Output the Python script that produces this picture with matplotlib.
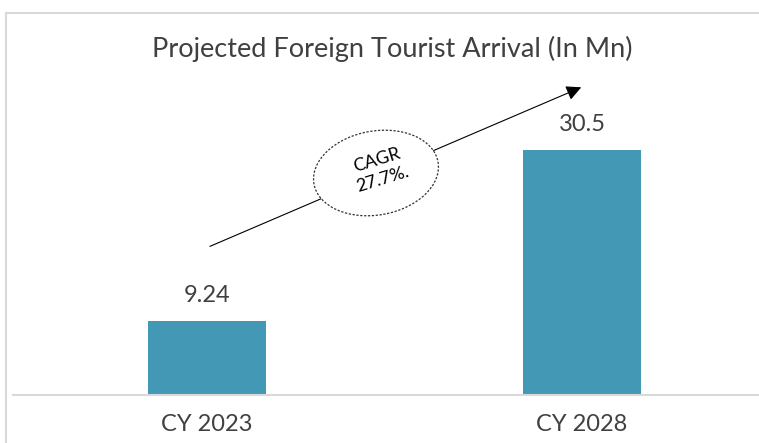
import matplotlib.pyplot as plt
from matplotlib.patches import Rectangle, Ellipse

years = ["CY 2023", "CY 2028"]
arrivals = [9.24, 30.5]
value_labels = ["9.24", "30.5"]
cagr_text = "CAGR\n27.7%."

plt.rcParams['font.family'] = ['Lato', 'DejaVu Sans']
text_col = "#404040"

fig = plt.figure(figsize=(7.59, 4.43), dpi=100)
ax = fig.add_axes([13 / 759, 48 / 443, 746 / 759, 335 / 443])

x = range(len(years))
ax.bar(x, arrivals, width=0.315, color="#4298b5", zorder=2)
ax.set_xlim(-0.517, 1.472)
ax.set_ylim(0, 41.7)

for xi, v, lab in zip(x, arrivals, value_labels):
    ax.text(xi, v + 1.9, lab, ha="center", va="bottom", fontsize=17, color=text_col)

ax.set_xticks(list(x))
ax.set_xticklabels(years, fontsize=17, color=text_col)
ax.tick_params(axis="x", length=0, pad=14)
ax.set_yticks([])
for s in ["top", "right", "left"]:
    ax.spines[s].set_visible(False)
ax.spines["bottom"].set_color("#d9d9d9")
ax.spines["bottom"].set_linewidth(1.5)

# CAGR arrow
ax.annotate("", xy=(0.998, 38.3), xytext=(0.008, 18.5),
            arrowprops=dict(arrowstyle="-|>,head_length=0.9,head_width=0.45",
                            color="black", lw=0.8, shrinkA=0, shrinkB=0))

ell = Ellipse((3.76, 4.43 - 1.73), 1.26, 0.84, angle=10,
              transform=fig.dpi_scale_trans, facecolor="white",
              edgecolor="#333333", lw=0.9, ls=(0, (1.8, 1.3)), zorder=5)
fig.add_artist(ell)
fig.text(3.80 / 7.59, (4.43 - 1.70) / 4.43, cagr_text, ha="center", va="center",
         rotation=17, fontsize=13, color="black", linespacing=1.3, zorder=6)

fig.text(392 / 759, 1 - 49 / 443, "Projected Foreign Tourist Arrival (In Mn)",
         ha="center", va="center", fontsize=19.5, color=text_col)

# outer frame
fig.add_artist(Rectangle((6 / 759, -0.1), 1.0, 1 - 13 / 443 + 0.1,
                         transform=fig.transFigure, fill=False,
                         edgecolor="#d9d9d9", lw=1.5))

fig.savefig("out.png", dpi=100)
